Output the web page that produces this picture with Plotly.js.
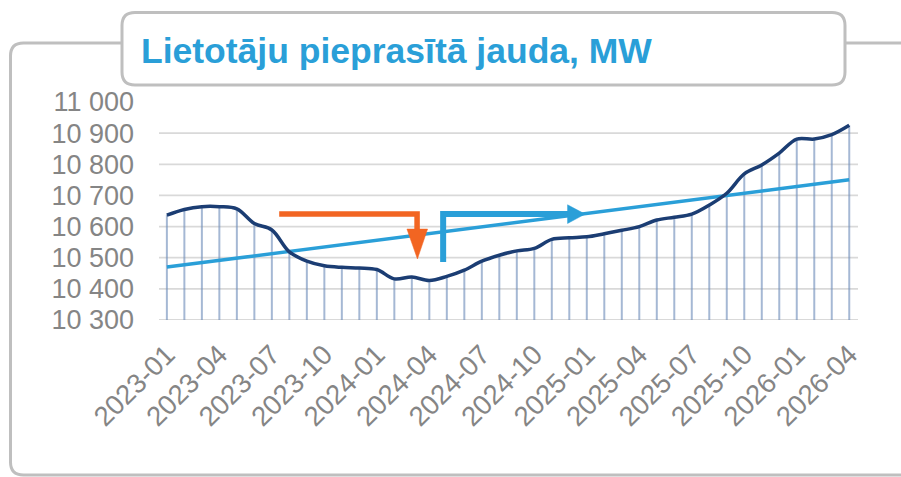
<!DOCTYPE html>
<html>
<head>
<meta charset="utf-8">
<script src="https://cdn.plot.ly/plotly-3.0.1.min.js"></script>
<style>
html,body{margin:0;padding:0;background:#fff;}
#chart{width:901px;height:477px;}
</style>
</head>
<body>
<div id="chart"></div>
<script>
// ---- data ----
const months = ['2023-01','2023-02','2023-03','2023-04','2023-05','2023-06','2023-07','2023-08','2023-09','2023-10','2023-11','2023-12',
'2024-01','2024-02','2024-03','2024-04','2024-05','2024-06','2024-07','2024-08','2024-09','2024-10','2024-11','2024-12',
'2025-01','2025-02','2025-03','2025-04','2025-05','2025-06','2025-07','2025-08','2025-09','2025-10','2025-11','2025-12',
'2026-01','2026-02','2026-03','2026-04'];
const demandMW = [10637,10655,10664,10664,10657,10610,10589,10519,10489,10474,10469,10467,
10462,10432,10438,10427,10440,10460,10489,10508,10522,10530,10559,10564,
10567,10577,10588,10600,10621,10630,10640,10669,10707,10769,10798,10836,
10881,10881,10895,10925];
const trendMonths = ['2023-01','2026-04'];
const trendMW = [10470,10750];
const xTickLabels = ['2023-01','2023-04','2023-07','2023-10','2024-01','2024-04','2024-07','2024-10','2025-01','2025-04','2025-07','2025-10','2026-01','2026-04'];
const yTickVals = [10300,10400,10500,10600,10700,10800,10900,11000];
const yTickText = ['10 300','10 400','10 500','10 600','10 700','10 800','10 900','11 000'];
const titleText = 'Lietotāju pieprasītā jauda, MW';

// ---- geometry helpers (plot area in pixels) ----
const W = 901, Hh = 477;
const mL = 159, mR = 43, mT = 102, mB = 157;
const pw = W - mL - mR, ph = Hh - mT - mB;
const PX = px => (px - mL) / pw;
const PY = py => (Hh - mB - py) / ph;

const idx = m => months.indexOf(m);
const xIdx = months.map((m, i) => i);

// drop lines
const dropX = [], dropY = [];
months.forEach((m, i) => { dropX.push(i, i, null); dropY.push(yTickVals[0], demandMW[i], null); });

const navy = '#1b3d73';
const lblue = '#2a9fd8';
const orange = '#f26522';
const frameCol = '#bfbfbf';

const traces = [
  {x: dropX, y: dropY, mode: 'lines', line: {color: 'rgba(110,140,185,0.62)', width: 2}, hoverinfo: 'skip'},
  {x: trendMonths.map(idx), y: trendMW, mode: 'lines', line: {color: lblue, width: 3.5}},
  {x: xIdx, y: demandMW, mode: 'lines', line: {color: navy, width: 3.5, shape: 'spline', smoothing: 1}}
];

function rr(x0, y0, x1, y1, r) { // rounded rect in pixels -> paper path
  const f = (x, y) => PX(x).toFixed(5) + ',' + PY(y).toFixed(5);
  return 'M' + f(x0 + r, y0) + ' L' + f(x1 - r, y0) + ' Q' + f(x1, y0) + ' ' + f(x1, y0 + r) +
    ' L' + f(x1, y1 - r) + ' Q' + f(x1, y1) + ' ' + f(x1 - r, y1) +
    ' L' + f(x0 + r, y1) + ' Q' + f(x0, y1) + ' ' + f(x0, y1 - r) +
    ' L' + f(x0, y0 + r) + ' Q' + f(x0, y0) + ' ' + f(x0 + r, y0) + ' Z';
}

const shapes = [];
// gridlines
yTickVals.filter(v => v < 11000).forEach(v => {
  shapes.push({type: 'line', xref: 'paper', yref: 'y', x0: 0, x1: 1, y0: v, y1: v,
    line: {color: '#d9d9d9', width: 1.8}, layer: 'below'});
});
// outer frame
shapes.push({type: 'path', xref: 'paper', yref: 'paper', path: rr(10.5, 43, 960, 475, 13),
  line: {color: frameCol, width: 3}, layer: 'below'});
// title box
shapes.push({type: 'path', xref: 'paper', yref: 'paper', path: rr(122, 12.5, 845, 85, 13),
  fillcolor: '#ffffff', line: {color: frameCol, width: 3}, layer: 'below'});
// orange arrow
shapes.push({type: 'path', xref: 'x', yref: 'y', path: 'M6.42,10640 L14.3,10640 L14.3,10592',
  line: {color: orange, width: 5.5}});
shapes.push({type: 'path', xref: 'x', yref: 'y', path: 'M13.72,10592 L14.9,10592 L14.32,10496 Z',
  fillcolor: orange, line: {color: orange, width: 0.5}});
// blue arrow
shapes.push({type: 'path', xref: 'x', yref: 'y', path: 'M15.79,10486 L15.79,10640 L22.95,10640',
  line: {color: lblue, width: 6}});
shapes.push({type: 'path', xref: 'x', yref: 'y', path: 'M22.9,10670 L23.9,10640 L22.9,10610 Z',
  fillcolor: lblue, line: {color: lblue, width: 0.5}});

const fontFam = 'Liberation Sans, Arial, sans-serif';
const layout = {
  width: W, height: Hh,
  margin: {l: mL, r: mR, t: mT, b: mB, pad: 0},
  paper_bgcolor: 'rgba(0,0,0,0)', plot_bgcolor: 'rgba(0,0,0,0)',
  showlegend: false, hovermode: false,
  title: {text: titleText, x: 141 / W, xref: 'container', xanchor: 'left',
    y: 1 - 51 / Hh, yref: 'container', yanchor: 'middle',
    font: {family: fontFam, size: 35.5, color: lblue, weight: 'bold'}},
  xaxis: {range: [-0.45, 39.5], tickvals: xTickLabels.map(idx), ticktext: xTickLabels,
    tickangle: -45, showgrid: false, zeroline: false, showline: false, ticks: '',
    ticklabelstandoff: 12,
    tickfont: {family: fontFam, size: 27.5, color: '#858585'}},
  yaxis: {range: [10300, 11000], tickvals: yTickVals, ticktext: yTickText,
    showgrid: false, zeroline: false, showline: false, ticks: '',
    ticklabelstandoff: 24,
    tickfont: {family: fontFam, size: 27, color: '#858585'}},
  shapes: shapes
};

Plotly.newPlot('chart', traces, layout, {staticPlot: true, displayModeBar: false});
</script>
</body>
</html>
